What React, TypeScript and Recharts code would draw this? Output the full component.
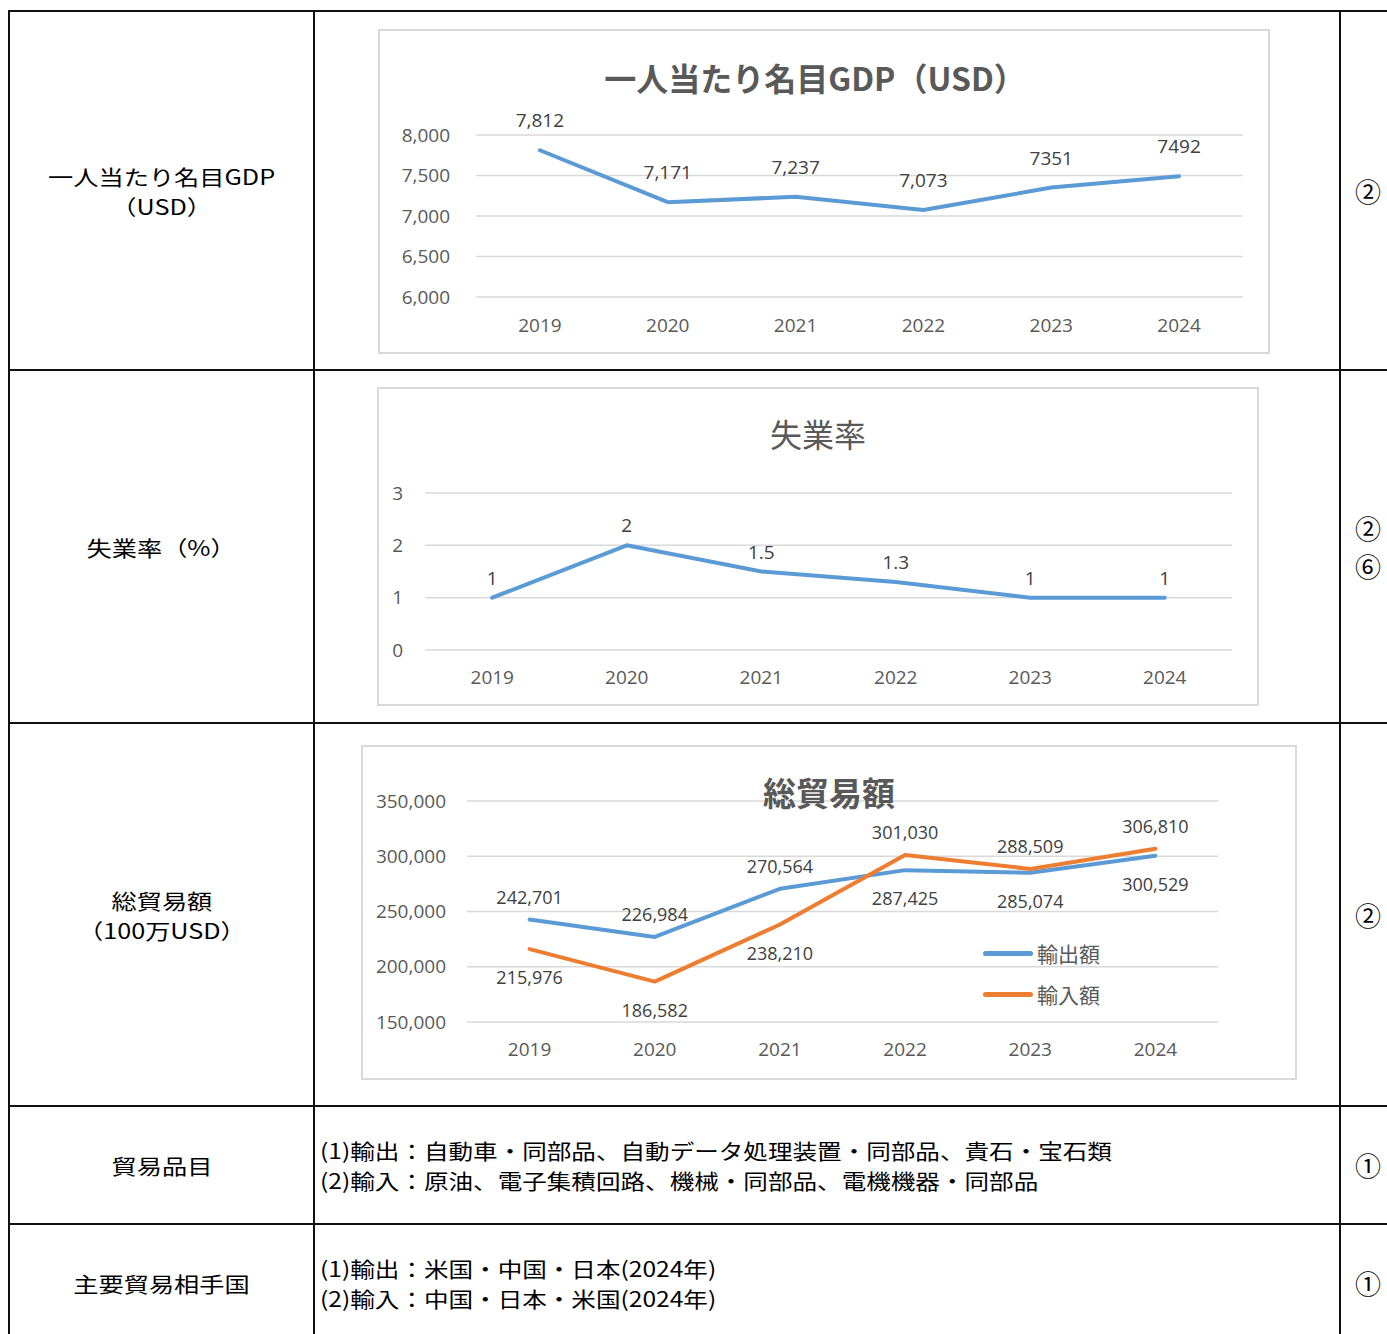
import React from 'react';
import { LineChart, Line, XAxis, YAxis, CartesianGrid, LabelList } from 'recharts';

// ---------- data ----------
const YEARS = ['2019', '2020', '2021', '2022', '2023', '2024'];

const GDP_VALUES = [7812, 7171, 7237, 7073, 7351, 7492];
const GDP_LABELS = ['7,812', '7,171', '7,237', '7,073', '7351', '7492'];
const GDP_TICKS = [6000, 6500, 7000, 7500, 8000];

const UNEMP_VALUES = [1, 2, 1.5, 1.3, 1, 1];
const UNEMP_LABELS = ['1', '2', '1.5', '1.3', '1', '1'];
const UNEMP_TICKS = [0, 1, 2, 3];

const EXPORT_VALUES = [242701, 226984, 270564, 287425, 285074, 300529];
const IMPORT_VALUES = [215976, 186582, 238210, 301030, 288509, 306810];
const TRADE_TICKS = [150000, 200000, 250000, 300000, 350000];

const TITLE_GDP = '一人当たり名目GDP（USD）';
const TITLE_UNEMP = '失業率';
const TITLE_TRADE = '総貿易額';
const SERIES_EXPORT = '輸出額';
const SERIES_IMPORT = '輸入額';

const ROW_HEADERS = [
  ['一人当たり名目GDP', '（USD）'],
  ['失業率（%）'],
  ['総貿易額', '（100万USD）'],
  ['貿易品目'],
  ['主要貿易相手国'],
];
const ROW_SOURCES = [['②'], ['②', '⑥'], ['②'], ['①'], ['①']];
const TRADE_ITEMS = [
  '(1)輸出：自動車・同部品、自動データ処理装置・同部品、貴石・宝石類',
  '(2)輸入：原油、電子集積回路、機械・同部品、電機機器・同部品',
];
const TRADE_PARTNERS = [
  '(1)輸出：米国・中国・日本(2024年)',
  '(2)輸入：中国・日本・米国(2024年)',
];

// ---------- derived tables ----------
const gdpData = YEARS.map((y, i) => ({ year: y, gdp: GDP_VALUES[i] }));
const unempData = YEARS.map((y, i) => ({ year: y, rate: UNEMP_VALUES[i] }));
const tradeData = YEARS.map((y, i) => ({ year: y, exp: EXPORT_VALUES[i], imp: IMPORT_VALUES[i] }));

// ---------- styling ----------
const FONT_CJK = '"Noto Sans CJK JP", "Noto Sans", sans-serif';
const FONT_NUM = '"Open Sans", "Noto Sans CJK JP", sans-serif';
const BLUE = '#5B9BD5';
const ORANGE = '#ED7D31';
const AXIS_TEXT = '#595959';
const LABEL_TEXT = '#404040';
const GRID = '#d9d9d9';

const fmt = (v: number) => v.toLocaleString('en-US');

const tickStyle = { fill: AXIS_TEXT, fontSize: 19, fontFamily: FONT_NUM };

// table geometry
const ROW_LINES = [11, 370, 723, 1106, 1224, 1342];
const COL_LINES = [9, 314, 1340];

function HLine({ y }: { y: number }) {
  return <div style={{ position: 'absolute', left: 8, width: 1400, top: y - 1, height: 2, background: '#111' }} />;
}
function VLine({ x }: { x: number }) {
  return <div style={{ position: 'absolute', top: 10, height: 1340, left: x - 1, width: 2, background: '#111' }} />;
}

function CenterText({ left, width, top, height, lines, size, scale, lineH }: { left: number; width: number; top: number; height: number; lines: string[]; size: number; scale: number; lineH: number }) {
  return (
    <div
      style={{
        position: 'absolute', left, width, top, height,
        display: 'flex', alignItems: 'center', justifyContent: 'center',
      }}
    >
      <div
        style={{
          fontFamily: FONT_CJK, fontSize: size, fontWeight: 400, lineHeight: lineH + 'px', color: '#000',
          textAlign: 'center', transform: `scaleX(${scale})`, whiteSpace: 'nowrap',
        }}
      >
        {lines.map((l, i) => (
          <div key={i}>{l}</div>
        ))}
      </div>
    </div>
  );
}

function LeftText({ left, top, lines }: { left: number; top: number; lines: string[] }) {
  return (
    <div
      style={{
        position: 'absolute', left, top,
        fontFamily: FONT_CJK, fontSize: 21, fontWeight: 400, lineHeight: '30px', color: '#000',
        transform: 'scaleX(1.17)', transformOrigin: 'left center', whiteSpace: 'nowrap',
      }}
    >
      {lines.map((l, i) => (
        <div key={i}>{l}</div>
      ))}
    </div>
  );
}

function Title({ x, y, text, size, bold }: { x: number; y: number; text: string; size: number; bold: boolean }) {
  return (
    <div
      style={{
        position: 'absolute', left: x, top: y, transform: 'translate(-50%, -50%)',
        fontFamily: FONT_CJK, fontSize: size, fontWeight: bold ? 700 : 400, color: AXIS_TEXT,
        whiteSpace: 'nowrap', lineHeight: 1,
      }}
    >
      {text}
    </div>
  );
}

function Border() {
  return (
    <div
      style={{
        position: 'absolute', left: 0, top: 0, right: 0, bottom: 0,
        border: '2px solid ' + GRID, boxSizing: 'border-box', pointerEvents: 'none',
      }}
    />
  );
}

const makeAboveLabel = (offset: number, size: number, labels: string[]) => (props: any) => {
  const { x, y, index } = props;
  if (x == null || y == null) return null;
  return (
    <text x={x} y={y - offset} textAnchor="middle" dominantBaseline="central" fill={LABEL_TEXT} fontSize={size} fontFamily={FONT_NUM}>
      {labels[index]}
    </text>
  );
};

const makeTradeLabel = (own: number[], other: number[]) => (props: any) => {
  const { x, y, index } = props;
  if (x == null || y == null) return null;
  const above = own[index] > other[index];
  return (
    <text x={x} y={above ? y - 23 : y + 28} textAnchor="middle" dominantBaseline="central" fill={LABEL_TEXT} fontSize={18} fontFamily={FONT_NUM}>
      {fmt(own[index])}
    </text>
  );
};

function GdpChart() {
  const W = 892, H = 325;
  const plotW = W - 98 - 27;
  const pad = plotW / 12;
  return (
    <div style={{ position: 'absolute', left: 378, top: 29, width: W, height: H }}>
      <LineChart width={W} height={H} data={gdpData} margin={{ top: 106, right: 27, bottom: 0, left: 0 }}>
        <CartesianGrid vertical={false} stroke={GRID} strokeWidth={1.5} />
        <XAxis dataKey="year" axisLine={false} tickLine={false} height={57} tickMargin={16} interval={0} padding={{ left: pad, right: pad }} tick={tickStyle} />
        <YAxis type="number" domain={[6000, 8000]} ticks={GDP_TICKS} width={98} axisLine={false} tickLine={false} tickMargin={20} tickFormatter={fmt} tick={tickStyle} />
        <Line type="linear" dataKey="gdp" stroke={BLUE} strokeWidth={4} dot={false} isAnimationActive={false} strokeLinejoin="round" strokeLinecap="round">
          <LabelList dataKey="gdp" content={makeAboveLabel(30, 19, GDP_LABELS)} />
        </Line>
      </LineChart>
      <Title x={815 - 378} y={77 - 29} text={TITLE_GDP} size={32} bold />
      <Border />
    </div>
  );
}

function UnempChart() {
  const W = 882, H = 319;
  const plotW = W - 48 - 27;
  const pad = plotW / 12;
  return (
    <div style={{ position: 'absolute', left: 377, top: 387, width: W, height: H }}>
      <LineChart width={W} height={H} data={unempData} margin={{ top: 106, right: 27, bottom: 0, left: 0 }}>
        <CartesianGrid vertical={false} stroke={GRID} strokeWidth={1.5} />
        <XAxis dataKey="year" axisLine={false} tickLine={false} height={56} tickMargin={15} interval={0} padding={{ left: pad, right: pad }} tick={tickStyle} />
        <YAxis type="number" domain={[0, 3]} ticks={UNEMP_TICKS} width={48} axisLine={false} tickLine={false} tickMargin={16} tick={tickStyle} />
        <Line type="linear" dataKey="rate" stroke={BLUE} strokeWidth={4} dot={false} isAnimationActive={false} strokeLinejoin="round" strokeLinecap="round">
          <LabelList dataKey="rate" content={makeAboveLabel(20, 19, UNEMP_LABELS)} />
        </Line>
      </LineChart>
      <Title x={818 - 377} y={433 - 387} text={TITLE_UNEMP} size={32} bold={false} />
      <Border />
    </div>
  );
}

function TradeChart() {
  const W = 936, H = 335;
  const plotW = W - 106 - 79;
  const pad = plotW / 12;
  return (
    <div style={{ position: 'absolute', left: 361, top: 745, width: W, height: H }}>
      <LineChart width={W} height={H} data={tradeData} margin={{ top: 56, right: 79, bottom: 0, left: 0 }}>
        <CartesianGrid vertical={false} stroke={GRID} strokeWidth={1.5} />
        <XAxis dataKey="year" axisLine={false} tickLine={false} height={58} tickMargin={15} interval={0} padding={{ left: pad, right: pad }} tick={tickStyle} />
        <YAxis type="number" domain={[150000, 350000]} ticks={TRADE_TICKS} width={106} axisLine={false} tickLine={false} tickMargin={15} tickFormatter={fmt} tick={tickStyle} />
        <Line type="linear" dataKey="exp" name={SERIES_EXPORT} stroke={BLUE} strokeWidth={4} dot={false} isAnimationActive={false} strokeLinejoin="round" strokeLinecap="round">
          <LabelList dataKey="exp" content={makeTradeLabel(EXPORT_VALUES, IMPORT_VALUES)} />
        </Line>
        <Line type="linear" dataKey="imp" name={SERIES_IMPORT} stroke={ORANGE} strokeWidth={4} dot={false} isAnimationActive={false} strokeLinejoin="round" strokeLinecap="round">
          <LabelList dataKey="imp" content={makeTradeLabel(IMPORT_VALUES, EXPORT_VALUES)} />
        </Line>
      </LineChart>
      <Title x={829 - 361} y={792 - 745} text={TITLE_TRADE} size={33} bold />
      {[
        { name: SERIES_EXPORT, color: BLUE, y: 953 - 745 },
        { name: SERIES_IMPORT, color: ORANGE, y: 994 - 745 },
      ].map((s) => (
        <div key={s.name} style={{ position: 'absolute', left: 983 - 361, top: s.y - 15, height: 30, display: 'flex', alignItems: 'center' }}>
          <div style={{ width: 50, height: 5, borderRadius: 3, background: s.color }} />
          <div style={{ marginLeft: 4, fontFamily: FONT_CJK, fontSize: 21, color: AXIS_TEXT, lineHeight: '30px' }}>{s.name}</div>
        </div>
      ))}
      <Border />
    </div>
  );
}

export default function App() {
  return (
    <div style={{ position: 'fixed', left: 0, top: 0, width: 1387, height: 1334, overflow: 'hidden', background: '#fff' }}>
      {ROW_LINES.map((y) => (
        <HLine key={'h' + y} y={y} />
      ))}
      {COL_LINES.map((x) => (
        <VLine key={'v' + x} x={x} />
      ))}
      {ROW_HEADERS.map((lines, i) => (
        <CenterText key={'rh' + i} left={10} width={303} top={ROW_LINES[i]} height={ROW_LINES[i + 1] - ROW_LINES[i]} lines={lines} size={21} scale={1.2} lineH={30} />
      ))}
      {ROW_SOURCES.map((lines, i) => (
        <CenterText key={'rs' + i} left={1341} width={54} top={ROW_LINES[i]} height={ROW_LINES[i + 1] - ROW_LINES[i]} lines={lines} size={26} scale={1} lineH={38} />
      ))}
      <LeftText left={320} top={1135} lines={TRADE_ITEMS} />
      <LeftText left={320} top={1253} lines={TRADE_PARTNERS} />
      <GdpChart />
      <UnempChart />
      <TradeChart />
    </div>
  );
}
